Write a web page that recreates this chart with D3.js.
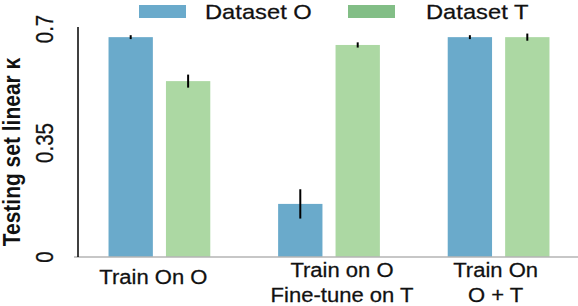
<!DOCTYPE html>
<html>
<head>
<meta charset="utf-8">
<script src="https://cdn.jsdelivr.net/npm/d3@7"></script>
<style>
  body { margin: 0; background: #fff; }
  text { font-family: "Liberation Sans", Arial, sans-serif; fill: #111; }
</style>
</head>
<body>
<div id="chart"></div>
<script>
var groups = ['Train On O', 'Train on O\nFine-tune on T', 'Train On\nO + T']
var seriesNames = ['Dataset O', 'Dataset T']
var datasetO = [0.675, 0.163, 0.675]
var datasetT = [0.540, 0.651, 0.675]
var errO = [0.006, 0.045, 0.006]
var errT = [0.020, 0.008, 0.011]
var yTicks = [0, 0.35, 0.7]

var width = 578
var height = 306
var barColors = ['#6aaacb', '#acd8a3']
var legendColors = ['#6aaacb', '#82be86']
var stretch = 1.13 // the text in the original is a bit wider than tall

var svg = d3.select('#chart').append('svg')
  .attr('width', width)
  .attr('height', height)

var y = d3.scaleLinear().domain([0, 0.7]).range([257, 29])
var x0 = d3.scaleBand().domain(groups).range([78, 580])
  .paddingInner(0.4).paddingOuter(0.18)
var x1 = d3.scaleBand().domain(seriesNames).range([0, x0.bandwidth()])
  .paddingInner(0.228)

var rows = []
groups.forEach(function (g, gi) {
  rows.push({ group: g, series: seriesNames[0], value: datasetO[gi], err: errO[gi], color: barColors[0] })
  rows.push({ group: g, series: seriesNames[1], value: datasetT[gi], err: errT[gi], color: barColors[1] })
})

// bars
svg.append('g').selectAll('rect')
  .data(rows)
  .enter().append('rect')
  .attr('x', d => x0(d.group) + x1(d.series))
  .attr('y', d => y(d.value))
  .attr('width', x1.bandwidth())
  .attr('height', d => y(0) - y(d.value))
  .attr('fill', d => d.color)

// error bars
svg.append('g').selectAll('line')
  .data(rows)
  .enter().append('line')
  .attr('x1', d => x0(d.group) + x1(d.series) + x1.bandwidth() / 2)
  .attr('x2', d => x0(d.group) + x1(d.series) + x1.bandwidth() / 2)
  .attr('y1', d => y(d.value + d.err))
  .attr('y2', d => y(d.value - d.err))
  .attr('stroke', '#000')
  .attr('stroke-width', 2)

// baseline
svg.append('line')
  .attr('x1', 74).attr('x2', width)
  .attr('y1', y(0)).attr('y2', y(0))
  .attr('stroke', '#b4b4b4').attr('stroke-width', 1.5)

// y axis line
svg.append('line')
  .attr('x1', 78).attr('x2', 78)
  .attr('y1', y(0)).attr('y2', 27)
  .attr('stroke', '#000').attr('stroke-width', 1.5)

// y tick labels, rotated
svg.append('g').selectAll('text')
  .data(yTicks)
  .enter().append('text')
  .attr('transform', d => 'translate(53,' + y(d) + ') rotate(-90) scale(1,' + stretch + ')')
  .attr('text-anchor', 'middle')
  .attr('font-size', 20.5)
  .attr('stroke', '#111').attr('stroke-width', 0.25)
  .text(d => d === 0 ? '0' : String(d))

// y title
svg.append('text')
  .attr('transform', 'translate(20,152) rotate(-90) scale(1,' + stretch + ')')
  .attr('text-anchor', 'middle')
  .attr('font-size', 21)
  .attr('font-weight', 'bold')
  .text('Testing set linear \u03ba')

// x labels (the original ones sit a little off the group centres)
var labelShift = [-6, 13, -3]
var labelBase = [284, 277, 277]
var xl = svg.append('g').selectAll('text')
  .data(groups)
  .enter().append('text')
  .attr('text-anchor', 'middle')
  .attr('font-size', 19.5)
  .attr('stroke', '#111').attr('stroke-width', 0.25)
  .attr('transform', (d, i) => 'translate(' + (x0(d) + x0.bandwidth() / 2 + labelShift[i]) + ',0) scale(' + stretch + ',1)')
xl.each(function (d, i) {
  var lines = d.split('\n')
  var t = d3.select(this)
  lines.forEach(function (l, li) {
    t.append('tspan')
      .attr('x', 0)
      .attr('y', labelBase[i] + li * 25)
      .text(l)
  })
})

// legend
var legendX = [139, 348]
var leg = svg.append('g').selectAll('g')
  .data(seriesNames)
  .enter().append('g')
  .attr('transform', (d, i) => 'translate(' + legendX[i] + ',5)')
leg.append('rect')
  .attr('width', 47).attr('height', 13)
  .attr('fill', (d, i) => legendColors[i])
leg.append('text')
  .attr('transform', (d, i) => 'translate(' + (i === 0 ? 66 : 78) + ',14) scale(' + stretch + ',1)')
  .attr('font-size', 21)
  .attr('stroke', '#111').attr('stroke-width', 0.25)
  .text(d => d)
</script>
</body>
</html>
